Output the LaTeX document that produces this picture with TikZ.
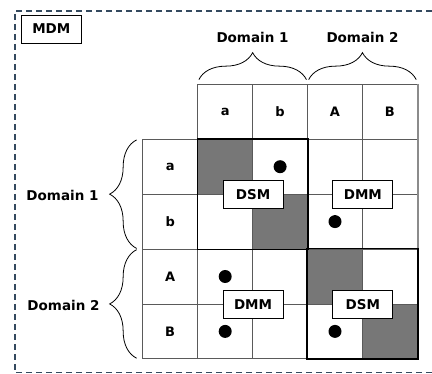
\documentclass[tikz,border=0pt]{standalone}
\usepackage{fontspec}
\setmainfont{DejaVu Sans}
\usetikzlibrary{decorations.pathreplacing,positioning}
\definecolor{cellgray}{HTML}{777777}
\definecolor{gridgray}{HTML}{5A5A5A}
\definecolor{framegray}{HTML}{34495E}

\begin{document}
\begin{tikzpicture}[x=1pt,y=-1pt,
    cell/.style={draw=gridgray,line width=0.8pt,minimum size=54.9pt,inner sep=0pt,font=\bfseries\fontsize{13}{15}\selectfont},
    shaded/.style={cell,fill=cellgray},
    dot/.style={circle,fill=black,inner sep=0pt,minimum size=13pt},
    tag/.style={draw,fill=white,line width=0.8pt,minimum width=60pt,minimum height=28pt,inner sep=0pt,font=\bfseries\fontsize{13.5}{15}\selectfont},
    brace/.style={decorate,decoration={brace,amplitude=27pt},line width=0.8pt},
    dom/.style={font=\bfseries\fontsize{13.5}{15}\selectfont}]
    \useasboundingbox (0,0) rectangle (432,374);
    % outer frame, open on the right
    \draw[framegray,line width=1.2pt,dash pattern=on 6pt off 4pt] (432,11) -- (15,11) -- (15,372.7) -- (432,372.7);
    \node[tag] (mdm) at (51.3,29) {MDM};
    % headers
    \foreach \t [count=\i] in {a,b,A,B} {
        \node[cell] (h-\i) at (225.2+54.9*\i-54.9,111.8) {\t};
        \node[cell] (v-\i) at (170.2,166.7+54.9*\i-54.9) {\t};
    }
    % matrix cells
    \foreach \r in {1,...,4} {
        \foreach \c in {1,...,4} {
            \ifnum\r=\c
                \node[shaded] (c-\r-\c) at (225.2+54.9*\c-54.9,166.7+54.9*\r-54.9) {};
            \else
                \node[cell] (c-\r-\c) at (225.2+54.9*\c-54.9,166.7+54.9*\r-54.9) {};
            \fi
        }
    }
    \draw[gridgray!70,line width=1.5pt] (h-4.north east) -- (c-4-4.south east);
    % diagonal blocks
    \draw[line width=1.6pt] (c-1-1.north west) rectangle (c-2-2.south east);
    \draw[line width=1.6pt] (c-3-3.north west) rectangle (c-4-4.south east);
    % dependencies
    \foreach \p in {1-2,2-3,3-1,4-1,4-3}
        \node[dot] (d-\p) at (c-\p) {};
    \node[tag] (dsm1) at (c-1-1.south east) {DSM};
    \node[tag] (dmm1) at (c-1-3.south east) {DMM};
    \node[tag] (dmm2) at (c-3-1.south east) {DMM};
    \node[tag] (dsm2) at (c-3-3.south east) {DSM};
    % braces
    \draw[brace] ([xshift=1.5pt,yshift=4.3pt]h-1.north west) -- ([xshift=-1.5pt,yshift=4.3pt]h-2.north east);
    \draw[brace] ([xshift=1.5pt,yshift=4.3pt]h-3.north west) -- ([xshift=-1.5pt,yshift=4.3pt]h-4.north east);
    \draw[brace] ([xshift=-5.7pt,yshift=1pt]v-2.south west) -- ([xshift=-5.7pt,yshift=-1pt]v-1.north west);
    \draw[brace] ([xshift=-5.7pt,yshift=1pt]v-4.south west) -- ([xshift=-5.7pt,yshift=-1pt]v-3.north west);
    \node[dom] (top1) at (252.5,37) {Domain 1};
    \node[dom] (top2) at (362.5,37) {Domain 2};
    \node[dom,anchor=east] (left1) at (102,195) {Domain 1};
    \node[dom,anchor=east] (left2) at (103,305) {Domain 2};
\end{tikzpicture}
\end{document}
